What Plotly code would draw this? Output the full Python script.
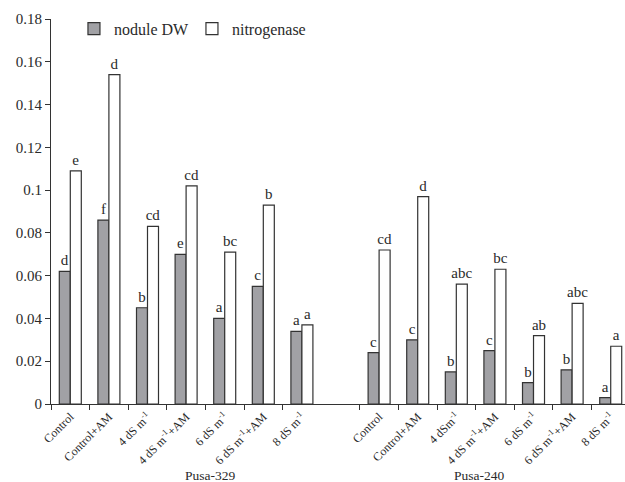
import plotly.graph_objects as go

treatments_329 = ["Control", "Control+AM", "4 dS m<sup>-1</sup>", "4 dS m<sup>-1</sup>+AM",
                  "6 dS m<sup>-1</sup>", "6 dS m<sup>-1</sup>+AM", "8 dS m<sup>-1</sup>"]
treatments_240 = ["Control", "Control+AM", "4 dSm<sup>-1</sup>", "4 dS m<sup>-1</sup>+AM",
                  "6 dS m<sup>-1</sup>", "6 dS m<sup>-1</sup>+AM", "8 dS m<sup>-1</sup>"]
cultivars = ["Pusa-329", "Pusa-240"]

nodule_329 = [0.062, 0.086, 0.045, 0.070, 0.040, 0.055, 0.034]
nitro_329 = [0.109, 0.154, 0.083, 0.102, 0.071, 0.093, 0.037]
nodule_240 = [0.024, 0.030, 0.015, 0.025, 0.010, 0.016, 0.003]
nitro_240 = [0.072, 0.097, 0.056, 0.063, 0.032, 0.047, 0.027]

nodule_letters_329 = ["d", "f", "b", "e", "a", "c", "a"]
nitro_letters_329 = ["e", "d", "cd", "cd", "bc", "b", "a"]
nodule_letters_240 = ["c", "c", "b", "c", "b", "b", "a"]
nitro_letters_240 = ["cd", "d", "abc", "bc", "ab", "abc", "a"]

y_ticks = [0, 0.02, 0.04, 0.06, 0.08, 0.1, 0.12, 0.14, 0.16, 0.18]
y_tick_text = ["0", "0.02", "0.04", "0.06", "0.08", "0.1", "0.12", "0.14", "0.16", "0.18"]

# unique category keys
keys_329 = [f"{cultivars[0]}|{i}" for i in range(len(treatments_329))]
keys_240 = [f"{cultivars[1]}|{i}" for i in range(len(treatments_240))]
gap_key = "gap"
category_order = keys_329 + [gap_key] + keys_240

FONT = "Liberation Serif"
TXT = "#2a2a2a"

fig = go.Figure()
fig.add_trace(go.Bar(
    name="nodule DW", x=keys_329 + keys_240, y=nodule_329 + nodule_240,
    text=nodule_letters_329 + nodule_letters_240, textposition="outside",
    textfont=dict(family=FONT, size=15, color=TXT), constraintext="none", cliponaxis=False,
    marker=dict(color="#a1a1a5", line=dict(color="#333333", width=1.2)),
))
fig.add_trace(go.Bar(
    name="nitrogenase", x=keys_329 + keys_240, y=nitro_329 + nitro_240,
    text=nitro_letters_329 + nitro_letters_240, textposition="outside",
    textfont=dict(family=FONT, size=15, color=TXT), constraintext="none", cliponaxis=False,
    marker=dict(color="#ffffff", line=dict(color="#333333", width=1.2)),
))

fig.update_layout(
    width=625, height=482,
    margin=dict(l=51, r=0, t=19, b=78),
    paper_bgcolor="white", plot_bgcolor="white",
    barmode="group", bargap=0.43, bargroupgap=0,
    font=dict(family=FONT, color=TXT),
    showlegend=True,
    legend=dict(orientation="h", x=0.04, y=0.975, xanchor="left", yanchor="middle",
                font=dict(family=FONT, size=16, color=TXT), bgcolor="rgba(0,0,0,0)",
                entrywidth=73, itemwidth=30, tracegroupgap=0),
    xaxis=dict(
        type="category", categoryorder="array", categoryarray=category_order,
        tickmode="array", tickvals=keys_329 + keys_240, ticktext=treatments_329 + treatments_240,
        tickson="boundaries", ticks="outside", ticklen=5, tickcolor="#333333",
        tickangle=-45, tickfont=dict(family=FONT, size=12, color=TXT),
        showline=True, linecolor="#333333", linewidth=1.2, showgrid=False,
        range=[-0.5, 14.37], zeroline=False, automargin=False,
    ),
    yaxis=dict(
        range=[0, 0.18], tickmode="array", tickvals=y_ticks, ticktext=y_tick_text,
        ticks="outside", ticklen=5, tickcolor="#333333",
        tickfont=dict(family=FONT, size=15, color=TXT),
        showline=True, linecolor="#333333", linewidth=1.2, showgrid=False, zeroline=False,
        automargin=False,
    ),
    annotations=[
        dict(text=cultivars[0], xref="paper", yref="paper", x=(183 - 51) / 574, y=(404 - 475) / 385,
             yanchor="middle", showarrow=False, font=dict(family=FONT, size=13.5, color=TXT)),
        dict(text=cultivars[1], xref="paper", yref="paper", x=(506 - 51) / 574, y=(404 - 475) / 385,
             yanchor="middle", showarrow=False, font=dict(family=FONT, size=13.5, color=TXT)),
    ],
)

fig.write_html("out.html", config={"displayModeBar": False},
               post_script="document.body.style.margin='0';")
